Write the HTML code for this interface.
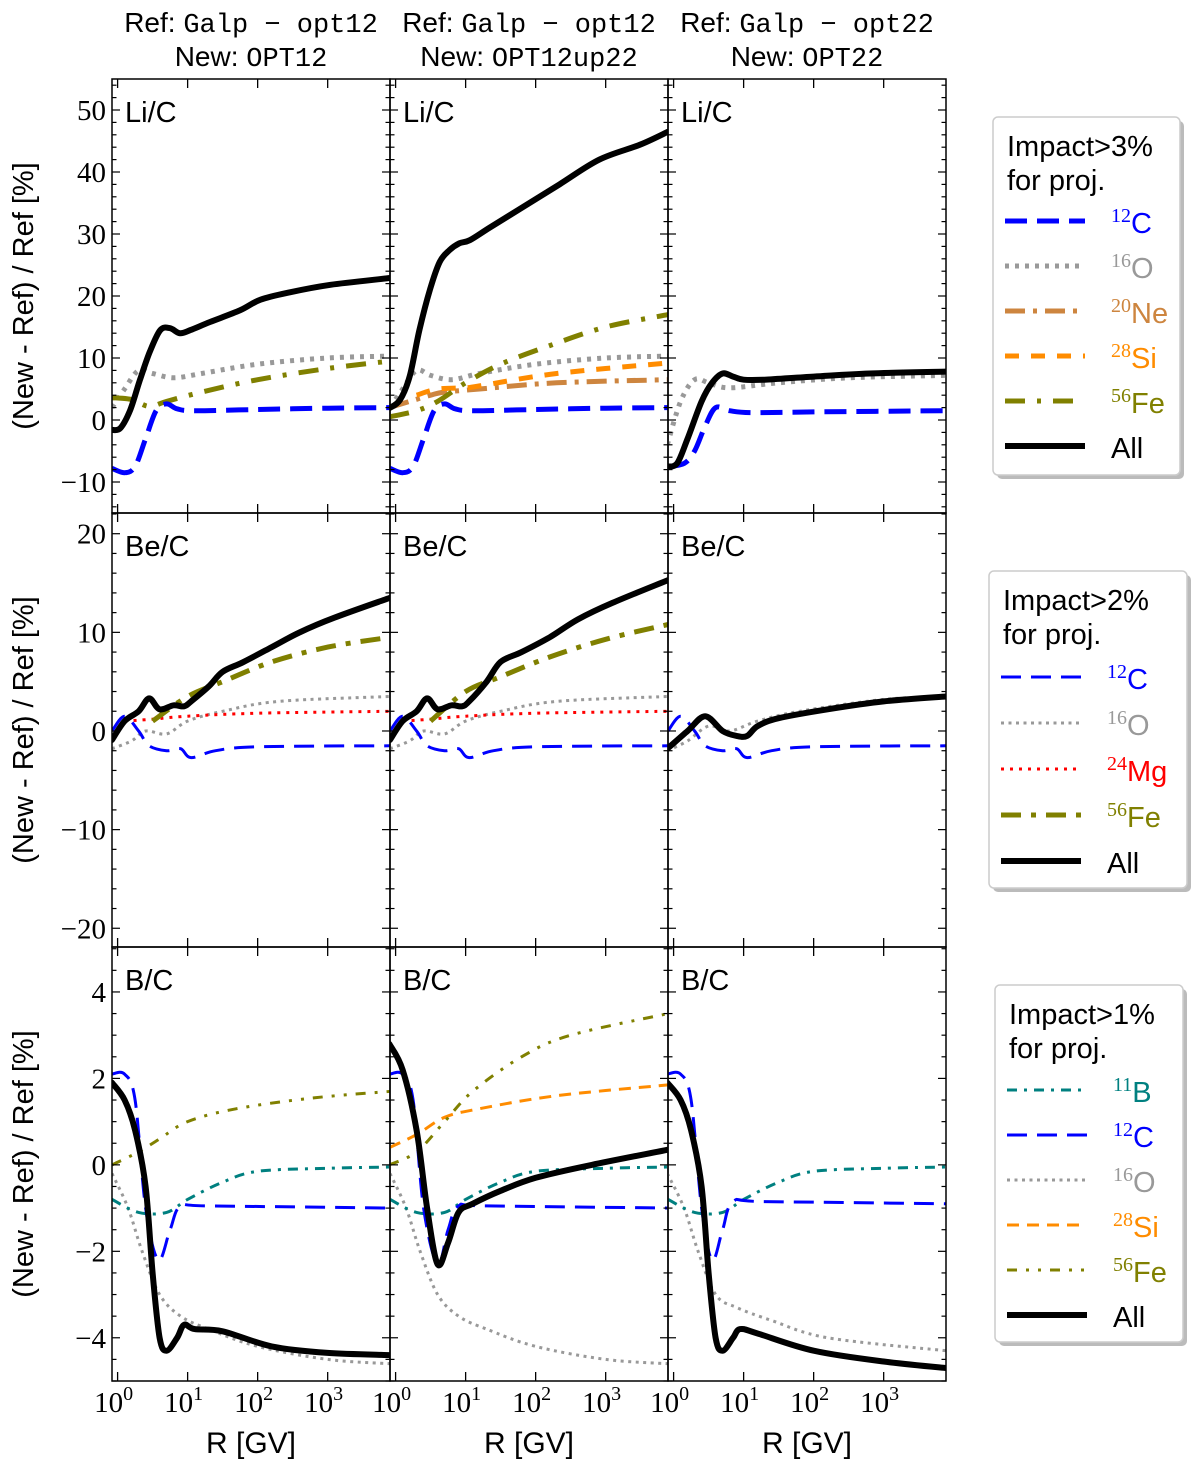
<!DOCTYPE html>
<html><head><meta charset="utf-8"><style>
html,body{margin:0;padding:0;background:#fff;}
svg{display:block;}
text{font-family:"Liberation Sans","DejaVu Sans",sans-serif;}
.serif{font-family:"Liberation Serif",serif;}
.mono{font-family:"Liberation Mono",monospace;}
</style></head><body>
<svg id="chart" width="1200" height="1466" viewBox="0 0 1200 1466" xmlns="http://www.w3.org/2000/svg"></svg>
<script>
// ---------- data (x in log10(R/GV), y in %) ----------
const xTicksLog = [0, 1, 2, 3];
const yTicksRow1 = [50, 40, 30, 20, 10, 0, -10];
const yTicksRow2 = [20, 10, 0, -10, -20];
const yTicksRow3 = [4, 2, 0, -2, -4];
const panelLabels = ["Li/C", "Be/C", "B/C"];
const titleRef = ["Galp \u2212 opt12", "Galp \u2212 opt12", "Galp \u2212 opt22"];
const titleNew = ["OPT12", "OPT12up22", "OPT22"];

// Row 1: Li/C
const li1_C12_x = [-0.08,0.1,0.25,0.4,0.55,0.7,0.85,1.1,2,3,3.89];
const li1_C12_y = [-7.8,-8.5,-7.5,-3,1.5,2.6,1.8,1.5,1.7,1.9,2.0];
const li1_O16_x = [-0.08,0.1,0.3,0.5,0.8,1.2,2,3,3.89];
const li1_O16_y = [2,5,8,7.5,6.8,7.5,9,10,10.3];
const li1_Fe56_x = [-0.08,0.2,0.45,0.7,1.2,2,3,3.89];
const li1_Fe56_y = [3.6,3.3,2.2,3,4.5,6.5,8.3,9.5];
const li1_All_x = [-0.08,0.04,0.18,0.32,0.46,0.61,0.75,0.89,1.04,1.32,1.75,2.04,2.46,3.04,3.89];
const li1_All_y = [-1.6,-1.3,1.6,6.5,11,14.5,14.8,14,14.5,15.8,17.7,19.4,20.6,21.8,22.9];

const li2_C12_x = li1_C12_x, li2_C12_y = li1_C12_y;
const li2_O16_x = [-0.08,0.1,0.3,0.5,0.8,1.2,2,3,3.89];
const li2_O16_y = [2,5,8,7.2,6.5,7.5,9,10,10.3];
const li2_Ne20_x = [-0.09,0.2,0.5,0.7,1.2,2.3,3.89];
const li2_Ne20_y = [2,3,4,4.5,5,6,6.5];
const li2_Si28_x = [0.3,0.6,1,1.2,2.3,3.89];
const li2_Si28_y = [4,5,5.2,5.5,7.5,9.2];
const li2_Fe56_x = [-0.09,0.3,0.6,1.0,1.5,2.2,3,3.89];
const li2_Fe56_y = [0.5,1.5,3,6,9,12,15,17];
const li2_All_x = [-0.09,0.06,0.2,0.34,0.49,0.63,0.77,0.91,1.06,1.34,1.77,2.34,2.91,3.49,3.89];
const li2_All_y = [1.9,3.2,7,14.5,21,25.5,27.4,28.5,29,31,34,38,42,44.4,46.5];

const li3_C12_x = [-0.09,0.15,0.3,0.45,0.6,0.8,1.1,2,3.89];
const li3_C12_y = [-7.5,-7,-5,-1,2,1.5,1.2,1.3,1.5];
const li3_O16_x = [-0.09,0.1,0.3,0.5,0.8,1.5,2.5,3.89];
const li3_O16_y = [-4,3,6.5,6,5.2,6,6.8,7.2];
const li3_All_x = [-0.09,0.05,0.2,0.4,0.55,0.7,0.85,1.0,1.3,2,2.8,3.89];
const li3_All_y = [-7.5,-7,-3,3,6,7.5,7,6.5,6.5,7,7.5,7.8];

// Row 2: Be/C
const be1_C12_x = [-0.08,0.1,0.3,0.45,0.7,0.9,1.05,1.4,2,3.89];
const be1_C12_y = [0,1.5,0,-1.5,-2,-1.8,-2.7,-2,-1.6,-1.5];
const be1_O16_x = [-0.08,0.2,0.4,0.7,1.0,1.5,2.3,3.89];
const be1_O16_y = [-1.8,-1,0,-0.3,1,2,3,3.5];
const be1_Mg24_x = [0.1,0.5,1,2,3.89];
const be1_Mg24_y = [1,1.2,1.5,1.8,2];
const be1_Fe56_x = [0.5,1,1.5,2.2,3,3.89];
const be1_Fe56_y = [1,3.5,5,7,8.5,9.5];
const be1_All_x = [-0.08,0.1,0.3,0.45,0.6,0.8,0.95,1.05,1.3,1.5,1.8,2.2,2.6,3.1,3.89];
const be1_All_y = [-0.9,1,2,3.3,2.2,2.6,2.5,3,4.5,6,7,8.5,10,11.5,13.5];

const be2_C12_x = be1_C12_x, be2_C12_y = be1_C12_y;
const be2_O16_x = be1_O16_x, be2_O16_y = be1_O16_y;
const be2_Mg24_x = be1_Mg24_x, be2_Mg24_y = be1_Mg24_y;
const be2_Fe56_x = [0.5,1,1.5,2.2,3,3.89];
const be2_Fe56_y = [1,4,5.5,7.5,9.3,10.8];
const be2_All_x = [-0.08,0.1,0.3,0.45,0.6,0.8,0.95,1.05,1.3,1.5,1.8,2.2,2.6,3.1,3.89];
const be2_All_y = [-0.9,1,2,3.3,2.2,2.6,2.5,3,5,7,8,9.5,11.3,13,15.3];

const be3_C12_x = be1_C12_x, be3_C12_y = be1_C12_y;
const be3_O16_x = [-0.09,0.2,0.5,0.8,1.2,1.8,3,3.89];
const be3_O16_y = [-2,-1,0.5,0,1,2,3.2,3.5];
const be3_All_x = [-0.09,0.2,0.45,0.7,0.9,1.05,1.2,1.5,2.2,3,3.89];
const be3_All_y = [-1.8,0,1.5,0,-0.5,-0.5,0.5,1.3,2.2,3,3.5];

// Row 3: B/C
const b1_B11_x = [-0.08,0.3,0.7,1,1.5,2,3,3.89];
const b1_B11_y = [-0.8,-1.1,-1.1,-0.8,-0.4,-0.15,-0.08,-0.05];
const b1_C12_x = [-0.08,0.1,0.25,0.4,0.58,0.75,0.9,1.3,3.89];
const b1_C12_y = [2.1,2.1,1.5,-1,-2.2,-1.5,-0.95,-0.95,-1];
const b1_O16_x = [-0.08,0.15,0.35,0.6,0.9,1.3,2,3,3.89];
const b1_O16_y = [-0.2,-1,-2,-3,-3.5,-3.8,-4.2,-4.5,-4.6];
const b1_Fe56_x = [-0.08,0.3,0.6,1,1.7,2.8,3.89];
const b1_Fe56_y = [0,0.3,0.6,1.0,1.3,1.55,1.7];
const b1_All_x = [-0.08,0.1,0.25,0.4,0.5,0.6,0.7,0.85,0.95,1.1,1.5,2.2,3,3.89];
const b1_All_y = [1.9,1.5,0.8,-0.5,-2.5,-4.0,-4.3,-4.0,-3.7,-3.8,-3.85,-4.2,-4.35,-4.4];

const b2_B11_x = b1_B11_x, b2_B11_y = b1_B11_y;
const b2_C12_x = [-0.08,0.1,0.25,0.4,0.6,0.75,0.9,1.3,3.89];
const b2_C12_y = [2.1,2.1,1.5,-1,-2.3,-1.5,-0.95,-0.95,-1];
const b2_O16_x = b1_O16_x, b2_O16_y = b1_O16_y;
const b2_Si28_x = [-0.09,0.3,0.7,1.2,2.3,3.89];
const b2_Si28_y = [0.4,0.7,1.1,1.3,1.6,1.85];
const b2_Fe56_x = [-0.09,0.3,0.7,1.1,1.8,2.5,3.89];
const b2_Fe56_y = [0,0.3,1,1.7,2.5,3,3.5];
const b2_All_x = [-0.09,0.1,0.3,0.45,0.6,0.75,0.9,1.1,1.5,2,2.8,3.89];
const b2_All_y = [2.8,2.2,0.8,-1,-2.3,-1.8,-1.1,-0.9,-0.6,-0.3,0,0.35];

const b3_B11_x = b1_B11_x, b3_B11_y = b1_B11_y;
const b3_C12_x = [-0.09,0.1,0.25,0.4,0.55,0.7,0.85,1.3,3.89];
const b3_C12_y = [2.1,2.1,1.5,-1,-2.2,-1.5,-0.85,-0.85,-0.9];
const b3_O16_x = [-0.09,0.15,0.35,0.6,0.9,1.4,2.2,3.89];
const b3_O16_y = [-0.2,-1,-2,-3,-3.3,-3.6,-4.0,-4.3];
const b3_All_x = [-0.09,0.1,0.25,0.4,0.5,0.6,0.7,0.85,0.95,1.2,2,3,3.89];
const b3_All_y = [1.9,1.5,0.8,-0.5,-2.5,-4.0,-4.3,-4.0,-3.8,-3.9,-4.3,-4.55,-4.7];

// ---------- layout ----------
const NS = "http://www.w3.org/2000/svg";
const svg = document.getElementById('chart');
function el(tag, attrs, parent){const e=document.createElementNS(NS,tag);for(const k in attrs)e.setAttribute(k,attrs[k]);(parent||svg).appendChild(e);return e;}

const colX = [112, 390, 668], colW = 278;
const rowY = [79, 513, 947], rowH = 434;
const xLogMin = -0.08, xLogMax = 3.89;
const yDomains = [[-15, 55], [-21.9, 22.1], [-5.0, 5.04]];
const yMinor = [2, 2, 0.5], yMajor = [10, 10, 2];
const yTicksRows = [yTicksRow1, yTicksRow2, yTicksRow3];

function xScale(c, lx){return colX[c] + (lx - xLogMin)/(xLogMax - xLogMin)*colW;}
function yScale(r, v){const d=yDomains[r];return rowY[r] + rowH - (v-d[0])/(d[1]-d[0])*rowH;}

const styles = {
  C12:{color:'#0000ff', dash:[[22,10],[20,10],[20,10]], w:[5,3,3]},
  O16:{color:'#999999', dash:[[4,6],[3,4.5],[3,4.5]], w:[5,3,3]},
  Ne20:{color:'#cd853f', dash:[[20,8,4,8],[20,8,4,8],[20,8,4,8]], w:[5,3,3]},
  Si28:{color:'#ff8c00', dash:[[14,12],[12,8],[12,8]], w:[5,3,3]},
  Mg24:{color:'#ff0000', dash:[[3,5],[3,6],[3,6]], w:[3,3,3]},
  Fe56:{color:'#808000', dash:[[20,12,4,12],[20,10,5,10],[10,9,3,9,3,9]], w:[5,5,3]},
  B11:{color:'#008080', dash:[[10,7,3,7],[10,7,3,7],[10,7,3,7]], w:[3,3,3]},
  All:{color:'#000000', dash:[null,null,null], w:[6,6,6]}
};

function smoothPath(xs){ // xs: array of [px,py]
  let d='M'+xs[0][0].toFixed(1)+','+xs[0][1].toFixed(1);
  for(let i=0;i<xs.length-1;i++){
    const p0=xs[Math.max(0,i-1)],p1=xs[i],p2=xs[i+1],p3=xs[Math.min(xs.length-1,i+2)];
    const t=1/6;
    const c1=[p1[0]+(p2[0]-p0[0])*t, p1[1]+(p2[1]-p0[1])*t];
    const c2=[p2[0]-(p3[0]-p1[0])*t, p2[1]-(p3[1]-p1[1])*t];
    d+=' C'+c1[0].toFixed(1)+','+c1[1].toFixed(1)+' '+c2[0].toFixed(1)+','+c2[1].toFixed(1)+' '+p2[0].toFixed(1)+','+p2[1].toFixed(1);
  }
  return d;
}

const panelSeries = [
  [ [['O16',li1_O16_x,li1_O16_y],['Fe56',li1_Fe56_x,li1_Fe56_y],['C12',li1_C12_x,li1_C12_y],['All',li1_All_x,li1_All_y]],
    [['O16',li2_O16_x,li2_O16_y],['Ne20',li2_Ne20_x,li2_Ne20_y],['Si28',li2_Si28_x,li2_Si28_y],['Fe56',li2_Fe56_x,li2_Fe56_y],['C12',li2_C12_x,li2_C12_y],['All',li2_All_x,li2_All_y]],
    [['O16',li3_O16_x,li3_O16_y],['C12',li3_C12_x,li3_C12_y],['All',li3_All_x,li3_All_y]] ],
  [ [['O16',be1_O16_x,be1_O16_y],['Mg24',be1_Mg24_x,be1_Mg24_y],['Fe56',be1_Fe56_x,be1_Fe56_y],['C12',be1_C12_x,be1_C12_y],['All',be1_All_x,be1_All_y]],
    [['O16',be2_O16_x,be2_O16_y],['Mg24',be2_Mg24_x,be2_Mg24_y],['Fe56',be2_Fe56_x,be2_Fe56_y],['C12',be2_C12_x,be2_C12_y],['All',be2_All_x,be2_All_y]],
    [['O16',be3_O16_x,be3_O16_y],['C12',be3_C12_x,be3_C12_y],['All',be3_All_x,be3_All_y]] ],
  [ [['O16',b1_O16_x,b1_O16_y],['Fe56',b1_Fe56_x,b1_Fe56_y],['B11',b1_B11_x,b1_B11_y],['C12',b1_C12_x,b1_C12_y],['All',b1_All_x,b1_All_y]],
    [['O16',b2_O16_x,b2_O16_y],['Si28',b2_Si28_x,b2_Si28_y],['Fe56',b2_Fe56_x,b2_Fe56_y],['B11',b2_B11_x,b2_B11_y],['C12',b2_C12_x,b2_C12_y],['All',b2_All_x,b2_All_y]],
    [['O16',b3_O16_x,b3_O16_y],['B11',b3_B11_x,b3_B11_y],['C12',b3_C12_x,b3_C12_y],['All',b3_All_x,b3_All_y]] ]
];

const defs = el('defs',{});
for(let r=0;r<3;r++){
  for(let c=0;c<3;c++){
    const cp = el('clipPath',{id:'clip'+r+c},defs);
    el('rect',{x:colX[c],y:rowY[r],width:colW,height:rowH},cp);
    const g = el('g',{'clip-path':'url(#clip'+r+c+')'});
    
    
    for(const [key,xs,ys] of panelSeries[r][c]){
      const st=styles[key];
      const pts=xs.map((lx,i)=>[xScale(c,lx), yScale(r,ys[i])]);
      const p=el('path',{d:smoothPath(pts),fill:'none',stroke:st.color,'stroke-width':st.w[r],'stroke-linejoin':'round'},g);
      if(st.dash[r]) p.setAttribute('stroke-dasharray',st.dash[r].join(' '));
      if(key==='All') p.setAttribute('stroke-linecap','round');
      
      
    }
    // frame
    const fr=el('rect',{x:colX[c],y:rowY[r],width:colW,height:rowH,fill:'none',stroke:'#000','stroke-width':1.5});
    
    
    // x ticks
    for(const t of xTicksLog){
      const x=xScale(c,t);
      el('line',{x1:x,x2:x,y1:rowY[r]+rowH,y2:rowY[r]+rowH-9,stroke:'#000','stroke-width':1.3});
      el('line',{x1:x,x2:x,y1:rowY[r],y2:rowY[r]+9,stroke:'#000','stroke-width':1.3});
    }
    // y ticks
    const d=yDomains[r];
    for(let v=Math.ceil(d[0]/yMinor[r])*yMinor[r]; v<=d[1]; v+=yMinor[r]){
      const vv=Math.round(v*100)/100;
      const isMaj=Math.abs(vv/yMajor[r]-Math.round(vv/yMajor[r]))<1e-6;
      const len=isMaj?8:4.5, y=yScale(r,vv);
      el('line',{x1:colX[c],x2:colX[c]+len,y1:y,y2:y,stroke:'#000','stroke-width':1.2});
      el('line',{x1:colX[c]+colW,x2:colX[c]+colW-len,y1:y,y2:y,stroke:'#000','stroke-width':1.2});
    }
    // panel label
    const lab=el('text',{x:colX[c]+13,y:rowY[r]+43,'font-size':29});
    lab.textContent=panelLabels[r];
    
    
  }
  // y tick labels
  for(const v of yTicksRows[r]){
    const t=el('text',{x:106,y:yScale(r,v)+10,'font-size':29,'text-anchor':'end','class':'serif'});
    t.textContent=(v<0?'\u2212':'')+Math.abs(v);
    
    
  }
  // y axis title
  const cy=rowY[r]+rowH/2;
  const yt=el('text',{x:0,y:0,'font-size':29,'text-anchor':'middle',transform:'translate(33,'+cy+') rotate(-90)'});
  yt.textContent='(New - Ref) / Ref [%]';
  
  
}
// x tick labels and titles
for(let c=0;c<3;c++){
  for(const t of xTicksLog){
    const x=xScale(c,t);
    const tx=el('text',{x:x-4,y:1412,'font-size':29,'text-anchor':'middle','class':'serif'});
    tx.textContent='10';
    const sup=el('tspan',{'font-size':20,dy:-12},tx); sup.textContent=String(t);
    
    
  }
  const cx=colX[c]+colW/2;
  const xt=el('text',{x:cx,y:1453,'font-size':30,'text-anchor':'middle'});
  xt.textContent='R [GV]';
  
  
  const t1=el('text',{x:cx,y:32,'font-size':28,'text-anchor':'middle'});
  const a=el('tspan',{},t1); a.textContent='Ref: ';
  const b=el('tspan',{'class':'mono','font-size':27},t1); b.textContent=titleRef[c];
  
  
  const t2=el('text',{x:cx,y:66,'font-size':28,'text-anchor':'middle'});
  const a2=el('tspan',{},t2); a2.textContent='New: ';
  const b2=el('tspan',{'class':'mono','font-size':27},t2); b2.textContent=titleNew[c];
  
  
}

// ---------- legends ----------
const legends = [
  {x:993,y:117,w:187,h:358,title:'Impact>3%',row:0,items:[['C12','12','C'],['O16','16','O'],['Ne20','20','Ne'],['Si28','28','Si'],['Fe56','56','Fe'],['All','','All']],y0:221,dy:45},
  {x:989,y:571,w:198,h:317,title:'Impact>2%',row:1,items:[['C12','12','C'],['O16','16','O'],['Mg24','24','Mg'],['Fe56','56','Fe'],['All','','All']],y0:677,dy:46},
  {x:995,y:985,w:188,h:357,title:'Impact>1%',row:2,items:[['B11','11','B'],['C12','12','C'],['O16','16','O'],['Si28','28','Si'],['Fe56','56','Fe'],['All','','All']],y0:1090,dy:45}
];
for(const L of legends){
  const g=el('g',{});
  
  
  el('rect',{x:L.x+4,y:L.y+4,width:L.w,height:L.h,rx:5,fill:'#bbb'},g);
  el('rect',{x:L.x,y:L.y,width:L.w,height:L.h,rx:5,fill:'#fff',stroke:'#ccc','stroke-width':1.5},g);
  const t=el('text',{x:L.x+14,y:L.y+39,'font-size':29},g); t.textContent=L.title;
  const t2=el('text',{x:L.x+14,y:L.y+73,'font-size':29},g); t2.textContent='for proj.';
  L.items.forEach((it,i)=>{
    const st=styles[it[0]], y=L.y0+i*L.dy, r=L.row;
    const ln=el('line',{x1:L.x+12,x2:L.x+92,y1:y,y2:y,stroke:st.color,'stroke-width':st.w[r]},g);
    if(st.dash[r]) ln.setAttribute('stroke-dasharray',st.dash[r].join(' '));
    
    
    const tx=el('text',{x:L.x+118,y:y+12,'font-size':29,fill:it[0]==='All'?'#000':st.color},g);
    if(it[1]){const s=el('tspan',{'class':'serif','font-size':20,dy:-11},tx); s.textContent=it[1];
      const e=el('tspan',{dy:11},tx); e.textContent=it[2];}
    else tx.textContent=it[2];
    
    
  });
}
</script>
</body></html>
